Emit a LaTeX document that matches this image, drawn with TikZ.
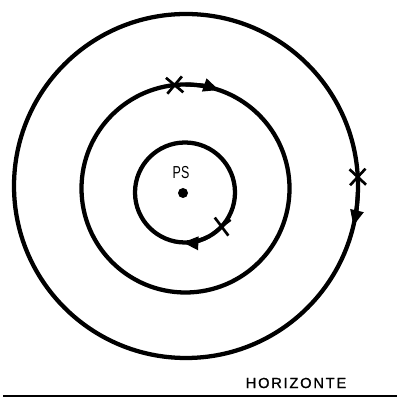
\documentclass[tikz,border=0pt]{standalone}
\usepackage{fontspec}
\setsansfont{Liberation Sans}
\usetikzlibrary{arrows.meta,shapes.misc,calc}
\begin{document}
\begin{tikzpicture}[x=0.75pt,y=0.75pt,
  orbit/.style={line width=3.2pt},
  dirarrow/.style={line width=3pt,-{Triangle[length=12pt,width=9.5pt]}},
  crossmark/.style={cross out,draw,line width=2pt,minimum size=10pt,inner sep=0pt}]
\useasboundingbox (0,0) rectangle (400,402);
\coordinate (ci) at (185,209.5);
\coordinate (cm) at (185.5,213.5);
\coordinate (co) at (186,216);
% circles
\draw[orbit] (co) circle[radius=172];
\draw[orbit] (cm) circle[radius=104];
\draw[orbit] (ci) circle[radius=50];
% central body
\fill (183,209) coordinate (ps) circle[radius=5];
\node[font=\sffamily\fontsize{13}{13}\selectfont,xscale=0.72] (pslabel) at (181,229) {PS};
% direction arrows
\draw[dirarrow] (cm) ++(90:104) arc[start angle=90, end angle=71, radius=104];
\draw[dirarrow] (co) ++(-2:172) arc[start angle=-2, end angle=-13.5, radius=172];
\draw[dirarrow] (ci) ++(-64:50) arc[start angle=-64, end angle=-93, radius=50];
% crosses
\node[crossmark,rotate=5] (x1) at ($(cm)+(96:104)$) {};
\node[crossmark,rotate=2] (x2) at ($(co)+(3:172)$) {};
\node[crossmark,rotate=-8] (x3) at ($(ci)+(-43:50)$) {};
% horizon
\coordinate (hl) at (3,6);
\coordinate (hr) at (397,6);
\draw[line width=1.6pt] (hl) -- (hr);
\node[font=\sffamily\fontsize{11}{11}\selectfont\addfontfeature{LetterSpace=12,FakeBold=1}] (hz) at (296,19) {HORIZONTE};
\end{tikzpicture}
\end{document}
